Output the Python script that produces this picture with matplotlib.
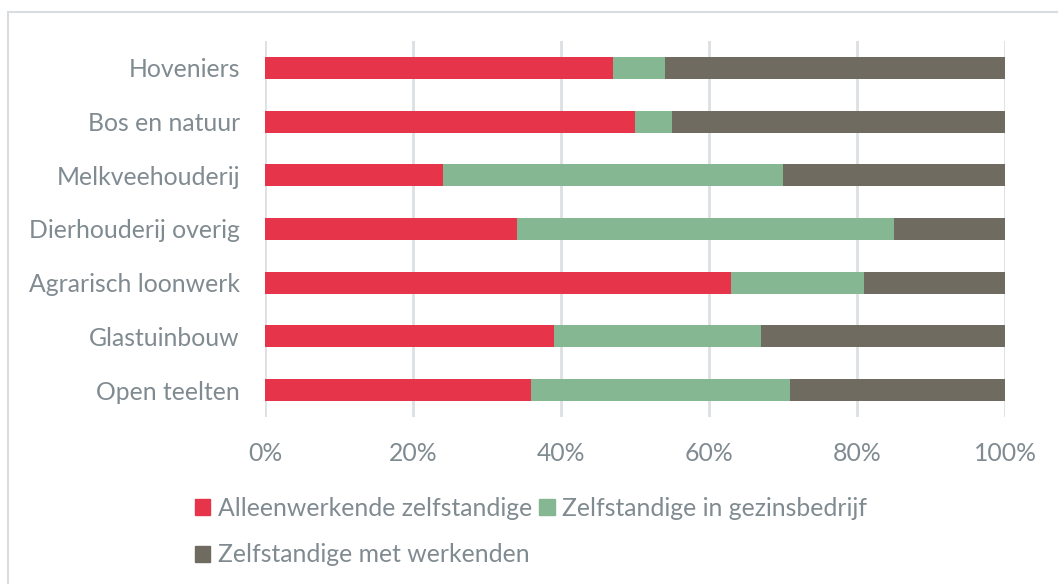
import matplotlib
matplotlib.use("Agg")
import matplotlib.pyplot as plt
from matplotlib.patches import Rectangle, Patch
from matplotlib.ticker import PercentFormatter

categories = ["Hoveniers", "Bos en natuur", "Melkveehouderij", "Dierhouderij overig",
              "Agrarisch loonwerk", "Glastuinbouw", "Open teelten"]
alleen = [47, 50, 24, 34, 63, 39, 36]
gezin = [7, 5, 46, 51, 18, 28, 35]
werkenden = [46, 45, 30, 15, 19, 33, 29]
series_names = ["Alleenwerkende zelfstandige", "Zelfstandige in gezinsbedrijf",
                "Zelfstandige met werkenden"]
colors = ["#E6344B", "#84B792", "#6F6B60"]
xticks = [0, 20, 40, 60, 80, 100]

plt.rcParams['font.family'] = ['Lato', 'DejaVu Sans']
text_color = "#808B91"
fs = 17.8

fig = plt.figure(figsize=(10.58, 5.84), dpi=100)
fig.patches.append(Rectangle((8/1058, -0.1), 1.2, 1 - 12/584 + 0.1, transform=fig.transFigure,
                             fill=False, edgecolor="#D9DDE0", linewidth=1.5))
ax = fig.add_axes([265/1058, 1 - 417/584, 740/1058, 376/584])

y = list(range(len(categories)))
left = [0]*len(categories)
for vals, name, c in zip([alleen, gezin, werkenden], series_names, colors):
    ax.barh(y, vals, left=left, height=0.41, color=c, label=name, zorder=3)
    left = [l + v for l, v in zip(left, vals)]

ax.set_ylim(len(categories) - 0.5, -0.5)
ax.set_xlim(0, 100)
ax.set_yticks(y)
ax.set_yticklabels(categories, fontsize=fs, color=text_color)
ax.set_xticks(xticks)
ax.xaxis.set_major_formatter(PercentFormatter(decimals=0))
ax.tick_params(axis='x', labelsize=fs, labelcolor=text_color, length=0, pad=18)
ax.tick_params(axis='y', length=0, pad=18)
ax.grid(axis='x', color="#DDE0E3", linewidth=2, zorder=0)
for s in ax.spines.values():
    s.set_visible(False)

handles = [Patch(color=c) for c in colors]
order = [0, 2, 1]
leg = fig.legend([handles[i] for i in order], [series_names[i] for i in order],
                 ncol=2, loc="upper left", bbox_to_anchor=(195/1058, 1 - 497/584),
                 frameon=False, fontsize=fs, handlelength=0.62, handleheight=0.62,
                 handletextpad=0.3, columnspacing=0.3, labelspacing=0.95,
                 borderaxespad=0, borderpad=0)
for t in leg.get_texts():
    t.set_color(text_color)

fig.savefig("out.png", dpi=100)
